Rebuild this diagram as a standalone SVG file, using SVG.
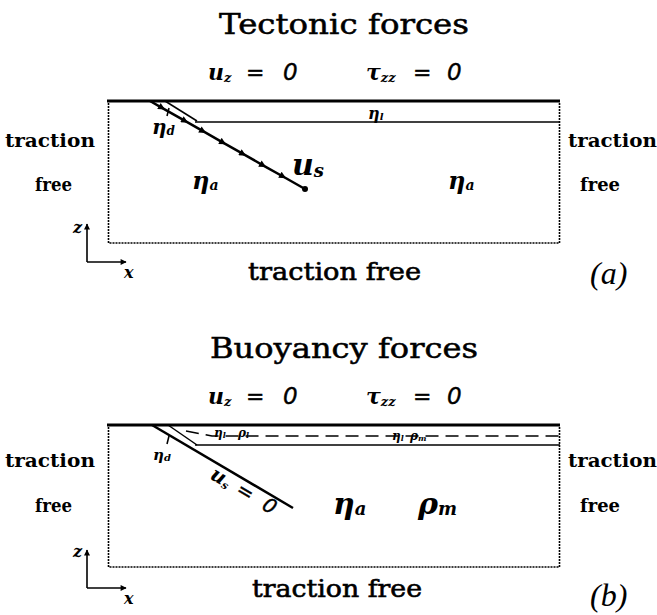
<svg xmlns="http://www.w3.org/2000/svg" width="657" height="615" viewBox="0 0 657 615">
<style>
.title{font-family:"DejaVu Serif",serif;font-size:27px;fill:#000;stroke:#000;stroke-width:0.5}
.bc{font-family:"DejaVu Serif",serif;font-weight:bold;font-size:18px;fill:#000}
.btm{font-family:"DejaVu Serif",serif;font-size:24px;fill:#000;stroke:#000;stroke-width:0.6}
.m{font-family:"DejaVu Serif",serif;font-style:italic;font-weight:bold;fill:#000}
.n{font-family:"DejaVu Sans",sans-serif;font-style:italic;fill:#000;stroke:#000;stroke-width:0.4}
.lab{font-family:"Liberation Serif",serif;font-style:italic;font-size:32px;fill:#000}
.thick{stroke:#000;stroke-width:3;fill:none}
.thin{stroke:#000;stroke-width:1.5;fill:none}
.dot{stroke:#000;stroke-width:1.6;fill:none;stroke-dasharray:2 1}
.dash{stroke:#000;stroke-width:1.6;fill:none;stroke-dasharray:13 7}
.ax{stroke:#000;stroke-width:1.6;fill:none}
</style>
<defs>
<marker id="tri" viewBox="0 0 10 10" refX="5" refY="5" markerWidth="8" markerHeight="7" markerUnits="userSpaceOnUse" orient="auto">
<path d="M0,0 L10,5 L0,10 z" fill="#000"/>
</marker>
<marker id="dotend" viewBox="0 0 10 10" refX="5" refY="5" markerWidth="6" markerHeight="6" markerUnits="userSpaceOnUse">
<circle cx="5" cy="5" r="5" fill="#000"/>
</marker>
<marker id="axa" viewBox="0 0 10 10" refX="9" refY="5" markerWidth="7" markerHeight="6" markerUnits="userSpaceOnUse" orient="auto">
<path d="M0,0 L10,5 L0,10 z" fill="#000"/>
</marker>
</defs>

<!-- Panel (a) -->
<g id="panel-a">
<text class="title" x="344" y="34" text-anchor="middle" textLength="250" lengthAdjust="spacingAndGlyphs">Tectonic forces</text>
<g id="a-bc-top">
<text class="m" x="208" y="80" font-size="22">u<tspan font-size="13" dy="2">z</tspan></text>
<text class="n" x="246" y="80" font-size="22">=</text>
<text class="n" x="283" y="80" font-size="23">0</text>
<text class="m" x="366" y="80" font-size="22">τ<tspan font-size="13" dy="2">zz</tspan></text>
<text class="n" x="413" y="80" font-size="22">=</text>
<text class="n" x="447" y="80" font-size="23">0</text>
</g>
<g id="a-box">
<line class="thick" x1="107" y1="101" x2="560" y2="101"/>
<line class="thin" x1="195" y1="122" x2="560" y2="122"/>
<path class="dot" d="M108.5,103 V243 H559.5 V103"/>
</g>
<g id="a-slab">
<path d="M150,101 L162,107.8 L185,120.9 L203,131.2 L223,142.6 L243,153.9 L263,165.3 L283,176.5 L305,189" stroke="#000" stroke-width="2.5" fill="none" marker-mid="url(#tri)" marker-end="url(#dotend)"/>
<line class="thin" x1="165" y1="101" x2="197" y2="121"/>
<line class="thin" x1="169" y1="108" x2="167" y2="116"/>
</g>
<text class="m" x="152" y="134" font-size="20">η<tspan font-size="12" dy="1">d</tspan></text>
<text class="m" x="368" y="119" font-size="16">η<tspan font-size="10" dy="1">l</tspan></text>
<text class="m" x="192" y="189" font-size="24">η<tspan font-size="14" dy="1">a</tspan></text>
<text class="m" x="448" y="189" font-size="24">η<tspan font-size="14" dy="1">a</tspan></text>
<text class="m" x="292" y="175" font-size="30">u<tspan font-size="18" dy="2">s</tspan></text>
<text class="bc" x="5" y="147" textLength="90" lengthAdjust="spacingAndGlyphs">traction</text>
<text class="bc" x="35" y="191" textLength="37" lengthAdjust="spacingAndGlyphs">free</text>
<text class="bc" x="568" y="147" textLength="89" lengthAdjust="spacingAndGlyphs">traction</text>
<text class="bc" x="580" y="191" textLength="40" lengthAdjust="spacingAndGlyphs">free</text>
<g id="a-axes">
<path class="ax" d="M87,262 V224" marker-end="url(#axa)"/>
<path class="ax" d="M87,262 H126" marker-end="url(#axa)"/>
<text class="m" x="73" y="233" font-size="16">z</text>
<text class="m" x="124" y="278" font-size="16">x</text>
</g>
<text class="btm" x="248" y="280" textLength="173" lengthAdjust="spacingAndGlyphs">traction free</text>
<text class="lab" x="590" y="284">(a)</text>
</g>

<!-- Panel (b) -->
<g id="panel-b">
<text class="title" x="344" y="358" text-anchor="middle" textLength="268" lengthAdjust="spacingAndGlyphs">Buoyancy forces</text>
<g id="b-bc-top">
<text class="m" x="208" y="404" font-size="22">u<tspan font-size="13" dy="2">z</tspan></text>
<text class="n" x="246" y="404" font-size="22">=</text>
<text class="n" x="283" y="404" font-size="23">0</text>
<text class="m" x="366" y="404" font-size="22">τ<tspan font-size="13" dy="2">zz</tspan></text>
<text class="n" x="413" y="404" font-size="22">=</text>
<text class="n" x="447" y="404" font-size="23">0</text>
</g>
<g id="b-box">
<line class="thick" x1="107" y1="425" x2="560" y2="425"/>
<line class="thin" x1="195" y1="445" x2="560" y2="445"/>
<path class="dot" d="M108.5,427 V567 H559.5 V427"/>
<path class="dash" d="M186,431 L212,436 H560"/>
</g>
<g id="b-slab">
<line x1="152" y1="425" x2="293" y2="508" stroke="#000" stroke-width="2.5"/>
<line class="thin" x1="168" y1="425" x2="197" y2="445"/>
<line class="thin" x1="169" y1="436" x2="167" y2="444"/>
</g>
<text class="m" x="153" y="460" font-size="15">η<tspan font-size="10" dy="1">d</tspan></text>
<text class="m" x="214" y="437" font-size="12">η<tspan font-size="8" dy="1">l</tspan></text>
<text class="m" x="238" y="437" font-size="12">ρ<tspan font-size="8" dy="1">l</tspan></text>
<text class="m" x="392" y="440" font-size="12">η<tspan font-size="8" dy="1">l</tspan></text>
<text class="m" x="410" y="440" font-size="12">ρ<tspan font-size="8" dy="1">m</tspan></text>
<g transform="translate(209,478) rotate(30.5)">
<text class="m" x="0" y="0" font-size="20">u<tspan font-size="11" dy="2">s</tspan></text>
<text class="n" x="30" y="0" font-size="20">=</text>
<text class="n" x="60" y="0" font-size="20">0</text>
</g>
<text class="m" x="333" y="514" font-size="30">η<tspan font-size="18" dy="1">a</tspan></text>
<text class="m" x="418" y="514" font-size="30">ρ<tspan font-size="18" dy="1">m</tspan></text>
<text class="bc" x="5" y="467" textLength="90" lengthAdjust="spacingAndGlyphs">traction</text>
<text class="bc" x="35" y="512" textLength="37" lengthAdjust="spacingAndGlyphs">free</text>
<text class="bc" x="568" y="467" textLength="89" lengthAdjust="spacingAndGlyphs">traction</text>
<text class="bc" x="580" y="512" textLength="40" lengthAdjust="spacingAndGlyphs">free</text>
<g id="b-axes">
<path class="ax" d="M87,588 V550" marker-end="url(#axa)"/>
<path class="ax" d="M87,588 H126" marker-end="url(#axa)"/>
<text class="m" x="73" y="557" font-size="16">z</text>
<text class="m" x="124" y="604" font-size="16">x</text>
</g>
<text class="btm" x="252" y="597" textLength="170" lengthAdjust="spacingAndGlyphs">traction free</text>
<text class="lab" x="590" y="606">(b)</text>
</g>
</svg>
